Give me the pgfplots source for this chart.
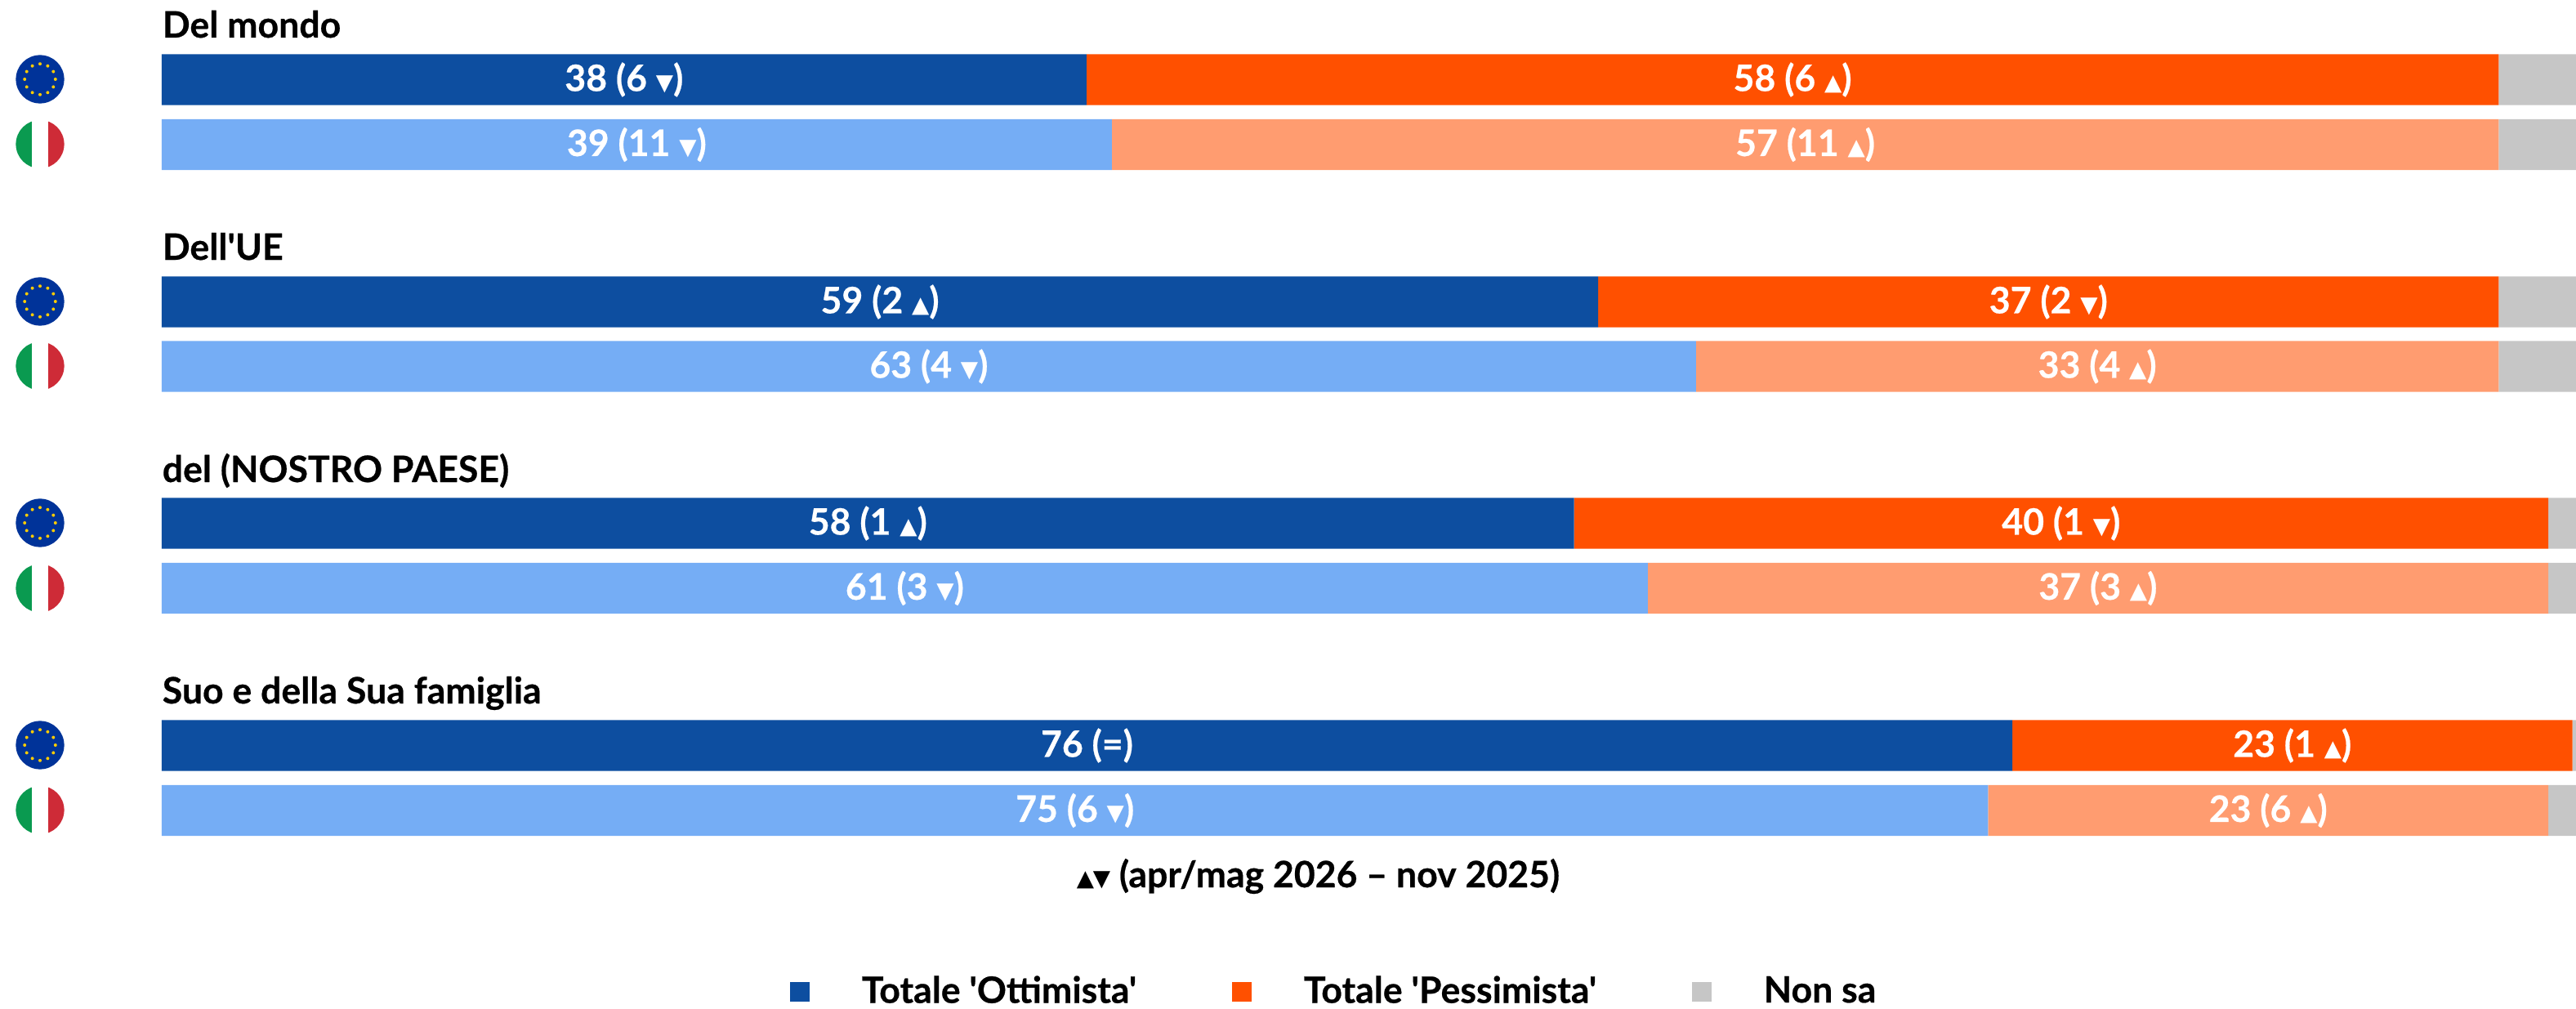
\documentclass[border=0pt]{standalone}
\usepackage{pgfplots}
\pgfplotsset{compat=1.18}
\usepackage{fontspec}
\setmainfont{Lato}[Ligatures=TeXOff,BoldFeatures={FakeBold=0.5}]
\newfontfamily\sym{DejaVu Sans}
\definecolor{cdark}{HTML}{0D4EA0}
\definecolor{corange}{HTML}{FF5000}
\definecolor{clight}{HTML}{75ADF5}
\definecolor{clorange}{HTML}{FF9C70}
\definecolor{cgray}{HTML}{C6C6C6}
\definecolor{eublue}{HTML}{003399}
\definecolor{eugold}{HTML}{FFCC00}
\definecolor{itgreen}{HTML}{0A9A50}
\definecolor{itred}{HTML}{CE2B37}
\protected\def\up{{\sym\raisebox{0.35pt}{\scalebox{0.62}{▲}}}}
\protected\def\dn{{\sym\raisebox{0.35pt}{\scalebox{0.62}{▼}}}}
\newcommand\chartfont{\fontsize{11.15}{12}\selectfont\bfseries}
\pgfplotsset{
  base/.style={
    xbar stacked, bar shift=0pt, bar width=15.6pt,
    scale only axis, width=788.25pt, height=308.5pt,
    at={(0,0)}, anchor=south west,
    xmin=-6.70, xmax=100, ymin=-1234, ymax=0,
    hide axis, clip=false,
    point meta=explicit symbolic,
    every axis plot/.append style={draw=none},
  },
  lab/.style={nodes near coords, every node near coord/.append style={text=white,font=\chartfont}},
}
\newcommand\euflag[1]{%
  \begin{scope}[shift={(12.25pt,{(1234-#1)*0.25pt})}]
    \fill[eublue] (0,0) circle (7.4pt);
    \foreach \a in {0,30,...,330}
      \fill[eugold] (\a:4.7pt) circle (0.5pt);
  \end{scope}}
\newcommand\itflag[1]{%
  \begin{scope}[shift={(12.25pt,{(1234-#1)*0.25pt})}]
    \begin{scope}
      \clip (0,0) circle (7.4pt);
      \fill[itgreen] (-8pt,-8pt) rectangle (-2.45pt,8pt);
      \fill[white] (-2.45pt,-8pt) rectangle (2.45pt,8pt);
      \fill[itred] (2.45pt,-8pt) rectangle (8pt,8pt);
    \end{scope}
  \end{scope}}
\begin{document}
\begin{tikzpicture}
\path[use as bounding box] (0,0) rectangle (788.25pt,308.5pt);
\begin{axis}[base,
  legend columns=3,
  legend style={at={(axis cs:26.02,-1214)},anchor=west,draw=none,fill=none,inner sep=0pt,outer sep=0pt,
    font=\chartfont,
    /tikz/every odd column/.append style={column sep=14pt},
    /tikz/every even column/.append style={column sep=27.2pt}},
  legend cell align=left,
  legend image code/.code={\fill[#1] (0pt,-3pt) rectangle (6pt,3pt);},
]
\addplot[fill=cdark,lab] coordinates {
 (38.3,-97.5) [{38 (6 \dn)}]
 (59.5,-369.5) [{59 (2 \up)}]
 (58.5,-640.5) [{58 (1 \up)}]
 (76.65,-912.5) [{76 (=)}]
};
\addplot[fill=corange,lab] coordinates {
 (58.5,-97.5) [{58 (6 \up)}]
 (37.3,-369.5) [{37 (2 \dn)}]
 (40.35,-640.5) [{40 (1 \dn)}]
 (23.2,-912.5) [{23 (1 \up)}]
};
\addplot[fill=cgray] coordinates {
 (3.2,-97.5) [{}]
 (3.2,-369.5) [{}]
 (1.15,-640.5) [{}]
 (0.15,-912.5) [{}]
};
\legend{Totale 'Ottimista',Totale 'Pessimista',Non sa}
\node[anchor=base west,inner sep=0pt,font=\chartfont] at (axis cs:0,-46) {Del mondo};
\node[anchor=base west,inner sep=0pt,font=\chartfont] at (axis cs:0,-318) {Dell'UE};
\node[anchor=base west,inner sep=0pt,font=\chartfont] at (axis cs:0,-590) {del (NOSTRO PAESE)};
\node[anchor=base west,inner sep=0pt,font=\chartfont] at (axis cs:0,-861) {Suo e della Sua famiglia};
\node[anchor=base,inner sep=0pt,font=\chartfont] at (axis cs:47.9,-1086) {\up\kern-0.3pt\dn{} (apr/mag 2026 – nov 2025)};
\end{axis}
\begin{axis}[base]
\addplot[fill=clight,lab] coordinates {
 (39.35,-177) [{39 (11 \dn)}]
 (63.55,-448.5) [{63 (4 \dn)}]
 (61.55,-720) [{61 (3 \dn)}]
 (75.65,-992) [{75 (6 \dn)}]
};
\addplot[fill=clorange,lab] coordinates {
 (57.45,-177) [{57 (11 \up)}]
 (33.25,-448.5) [{33 (4 \up)}]
 (37.3,-720) [{37 (3 \up)}]
 (23.2,-992) [{23 (6 \up)}]
};
\addplot[fill=cgray] coordinates {
 (3.2,-177) [{}]
 (3.2,-448.5) [{}]
 (1.15,-720) [{}]
 (1.15,-992) [{}]
};
\end{axis}
\euflag{97}\itflag{176.5}
\euflag{369}\itflag{448}
\euflag{640}\itflag{720}
\euflag{912}\itflag{991.5}
\end{tikzpicture}
\end{document}
